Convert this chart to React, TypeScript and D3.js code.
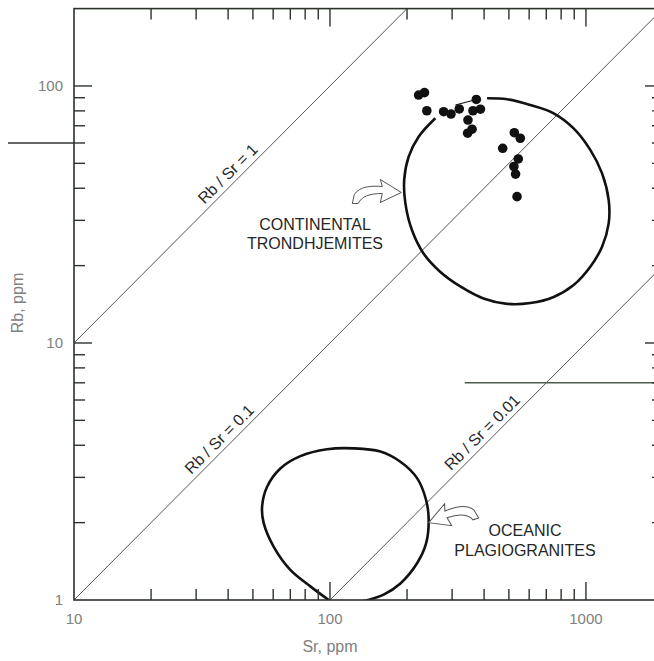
import React from 'react'
import * as d3 from 'd3'

// samples (Sr ppm, Rb ppm)
const sampleSr = [222, 234, 239, 278, 297, 320, 346, 373, 387, 362, 359, 345, 525, 554, 473, 544, 523, 531, 538]
const sampleRb = [92.2, 94.2, 80.1, 79.4, 77.8, 81.4, 73.7, 88.6, 81.2, 80.1, 67.9, 65.5, 65.8, 62.6, 57.2, 52.0, 48.6, 45.4, 37.1]

// short tie line inside the upper cluster
const tieSr = [309, 373]
const tieRb = [84.3, 88.6]

// continental trondhjemites field (open at the top-left where the dots sit)
const contSr = [411, 492, 606, 748, 895, 1040, 1156, 1227, 1227, 1156, 1040, 895, 748, 606, 492, 398, 323, 270, 232, 209, 197, 195, 203, 222, 258]
const contRb = [89.6, 88.8, 84.3, 78.3, 68.4, 56.4, 45.7, 36.0, 29.2, 23.7, 19.8, 16.8, 15.1, 14.3, 14.2, 14.9, 16.6, 18.9, 22.3, 27.5, 35.0, 43.1, 53.1, 63.5, 74.9]

// oceanic plagiogranites field (runs into the bottom axis)
const oceanSr = [98.9, 83.8, 70.0, 60.3, 55.1, 54.3, 56.8, 64.0, 76.6, 97.4, 123.8, 157.3, 188.4, 218.9, 237.4, 243, 237.4, 218.9, 188.4, 162.1, 135.4]
const oceanRb = [1.0, 1.13, 1.31, 1.61, 1.99, 2.31, 2.76, 3.25, 3.63, 3.86, 3.89, 3.78, 3.45, 2.98, 2.45, 2.05, 1.66, 1.39, 1.16, 1.05, 0.99]

// Rb/Sr reference lines and where their labels sit (Sr)
const ratios = [1, 0.1, 0.01]
const ratioLabelSr = [42.6, 39.5, 420]
const ratioLabels = ['Rb / Sr = 1', 'Rb / Sr = 0.1', 'Rb / Sr = 0.01']

const xTickLabels = [10, 100, 1000]
const yTickLabels = [1, 10, 100]

const W = 654
const H = 661
const left = 74
const top = 8.6
const bottom = 600
const right = 663

const font = '"Liberation Sans", Arial, Helvetica, sans-serif'
const grey = '#808080'
const ink = '#262626'

// hollow hooked arrow, tip at origin, pointing to +x
const arrowPath = 'M0,0 L-21,-13 L-19,-6 C-30,-7 -42,-6 -47,2 L-49,11 L-43,11 C-40,4 -32,1 -19,1 L-21,10 Z'

export default function App() {
  const x = d3.scaleLog().domain([10, 2000]).range([left, right])
  const y = d3.scaleLog().domain([1, 200]).range([bottom, top])

  const isMajor = (v: number) => Math.abs(Math.log10(v) - Math.round(Math.log10(v))) < 1e-9
  const xTicks = x.ticks().filter(v => v > 10 && v < 2000)
  const yTicks = y.ticks().filter(v => v > 1 && v < 200)

  const line = d3.line<[number, number]>()
    .x(d => x(d[0]))
    .y(d => y(d[1]))

  const contPts: [number, number][] = contSr.map((s, i) => [s, contRb[i]])
  const oceanPts: [number, number][] = oceanSr.map((s, i) => [s, oceanRb[i]])
  const contPath = line.curve(d3.curveCatmullRom.alpha(0.5))(contPts)
  const oceanPath = line.curve(d3.curveCatmullRom.alpha(0.5))(oceanPts)
  const tiePath = d3.line<[number, number]>().x(d => x(d[0])).y(d => y(d[1]))(tieSr.map((s, i) => [s, tieRb[i]]))

  const minor = 11
  const major = 18

  return (
    <div style={{ position: 'absolute', left: 0, top: 0, width: W, height: H, background: '#fff' }}>
      <svg width={W} height={H} style={{ display: 'block' }}>
        <defs>
          <clipPath id="plot">
            <rect x={left} y={top} width={right - left} height={bottom - top} />
          </clipPath>
        </defs>

        {/* stray rule lines from the scan */}
        <line x1={8} x2={left} y1={y(60)} y2={y(60)} stroke="#333" strokeWidth={1.3} />
        <line x1={x(336)} x2={W} y1={y(7)} y2={y(7)} stroke="#4d5a4d" strokeWidth={1.5} />

        {/* Rb/Sr reference lines */}
        <g clipPath="url(#plot)">
          {ratios.map(r => {
            const s0 = Math.max(10, 1 / r)
            const s1 = Math.min(2000, 200 / r)
            return (
              <line key={r} x1={x(s0)} y1={y(s0 * r)} x2={x(s1)} y2={y(s1 * r)} stroke="#555" strokeWidth={1} />
            )
          })}
          <path d={contPath || ''} fill="none" stroke="#111" strokeWidth={2.6} />
          <path d={oceanPath || ''} fill="none" stroke="#111" strokeWidth={2.6} />
          <path d={tiePath || ''} fill="none" stroke="#111" strokeWidth={1.2} />
          {sampleSr.map((s, i) => (
            <circle key={i} cx={x(s)} cy={y(sampleRb[i])} r={4.8} fill="#111" />
          ))}
        </g>

        {/* ratio labels */}
        {ratios.map((r, i) => {
          const s = ratioLabelSr[i]
          return (
            <text key={r} transform={`translate(${x(s)},${y(s * r)}) rotate(-45)`} y={-5}
              textAnchor="middle" fontFamily={font} fontSize={16} fill={ink}>
              {ratioLabels[i]}
            </text>
          )
        })}

        {/* frame */}
        <rect x={left} y={top} width={right - left} height={bottom - top} fill="none" stroke="#2b332b" strokeWidth={1.6} />

        {/* ticks, all pointing inward */}
        <g stroke="#2b332b" strokeWidth={1.4}>
          {xTicks.map(v => {
            const len = isMajor(v) ? major : minor
            return (
              <g key={'x' + v}>
                <line x1={x(v)} x2={x(v)} y1={bottom} y2={bottom - len} />
                <line x1={x(v)} x2={x(v)} y1={top} y2={top + len} />
              </g>
            )
          })}
          {yTicks.map(v => {
            const len = isMajor(v) ? major : minor
            return (
              <g key={'y' + v}>
                <line x1={left} x2={left + len} y1={y(v)} y2={y(v)} />
                <line x1={right} x2={right - len} y1={y(v)} y2={y(v)} />
              </g>
            )
          })}
        </g>

        {/* tick labels */}
        {xTickLabels.map(v => (
          <text key={'xl' + v} x={x(v)} y={624} textAnchor="middle" fontFamily={font} fontSize={15} fill={grey}>{v}</text>
        ))}
        {yTickLabels.map(v => (
          <text key={'yl' + v} x={63} y={y(v)} dy="0.36em" textAnchor="end" fontFamily={font} fontSize={15} fill={grey}>{v}</text>
        ))}

        {/* axis titles */}
        <text x={x(100)} y={652} textAnchor="middle" fontFamily={font} fontSize={16} fill={grey}>Sr, ppm</text>
        <text transform={`translate(23,${y(10) - 40}) rotate(-90)`} textAnchor="middle" fontFamily={font} fontSize={16} fill={grey}>Rb, ppm</text>

        {/* field names and pointers */}
        <text x={315} y={230} textAnchor="middle" fontFamily={font} fontSize={16} fill={ink}>CONTINENTAL</text>
        <text x={315} y={249} textAnchor="middle" fontFamily={font} fontSize={16} fill={ink}>TRONDHJEMITES</text>
        <path d={arrowPath} transform={`translate(${x(190)},${y(38.5)})`} fill="#fff" stroke="#555" strokeWidth={1} />

        <text x={525} y={536} textAnchor="middle" fontFamily={font} fontSize={16} fill={ink}>OCEANIC</text>
        <text x={525} y={556} textAnchor="middle" fontFamily={font} fontSize={16} fill={ink}>PLAGIOGRANITES</text>
        <path d={arrowPath} transform={`translate(${x(243)},${y(2.0)}) rotate(-18) scale(-1,1)`} fill="#fff" stroke="#555" strokeWidth={1} />
      </svg>
    </div>
  )
}
